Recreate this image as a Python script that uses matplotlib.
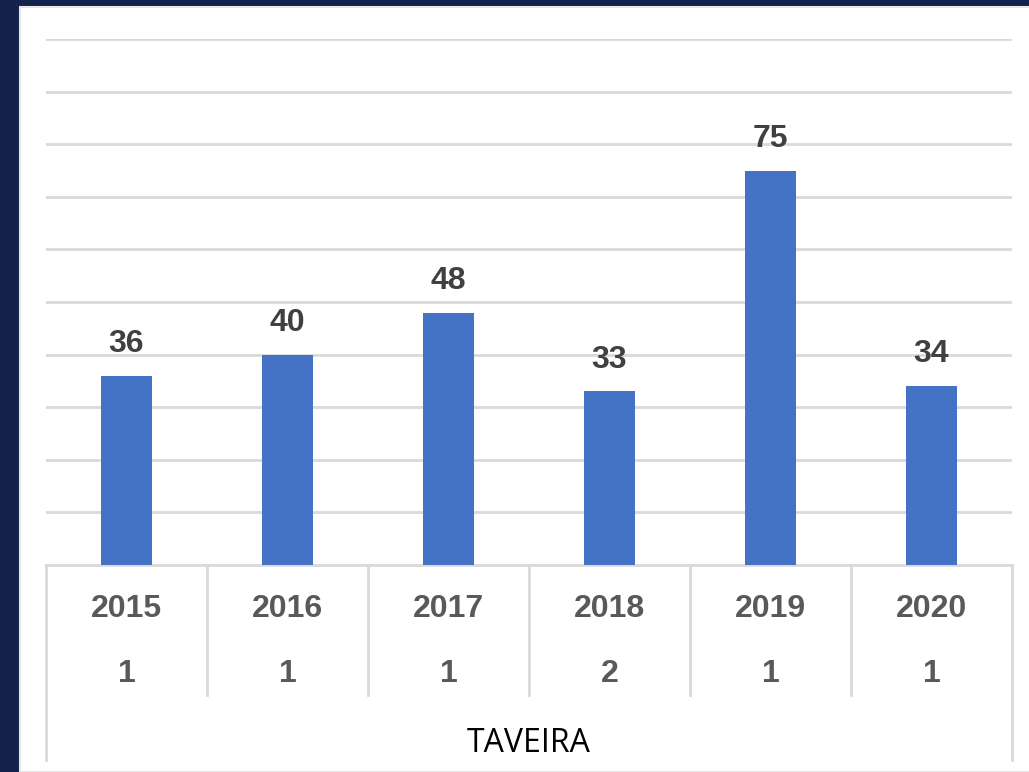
import numpy as np
import matplotlib
matplotlib.use("Agg")
import matplotlib.pyplot as plt
from matplotlib.lines import Line2D
from matplotlib.patches import Rectangle

# Data
years = ['2015', '2016', '2017', '2018', '2019', '2020']
counts = ['1', '1', '1', '2', '1', '1']
values = [36, 40, 48, 33, 75, 34]
group_label = 'TAVEIRA'

NAVY = '#12224a'
BLUE = '#4472c4'
GRID = '#d9d9d9'

narrow = ['Liberation Sans Narrow', 'Liberation Sans', 'DejaVu Sans']

W, H = 1029, 772
fig = plt.figure(figsize=(W / 100, H / 100), dpi=100)
fig.patch.set_facecolor(NAVY)

# white panel
fig.patches.append(Rectangle((20 / W, 0), 1, 1 - 7 / H, transform=fig.transFigure,
                             facecolor='white', edgecolor='#e6e6e6', lw=1.5, zorder=-5))

x0, x1 = 46, 1012
yb, yt = 565, 39
ax = fig.add_axes([x0 / W, 1 - yb / H, (x1 - x0) / W, (yb - yt) / H])
ax.set_facecolor('none')
ax.set_zorder(2)

x = np.arange(len(years))
ax.bar(x, values, width=0.32, color=BLUE, zorder=3)
ax.set_xlim(-0.5, len(years) - 0.5)
ax.set_ylim(0, 100)
ax.set_yticks(np.arange(10, 101, 10))
ax.yaxis.grid(True, color=GRID, lw=2)
ax.set_axisbelow(True)
ax.tick_params(left=False, labelleft=False, bottom=False, labelbottom=False)
for s in ['top', 'right', 'left']:
    ax.spines[s].set_visible(False)
ax.spines['bottom'].set_color(GRID)
ax.spines['bottom'].set_linewidth(2)

# data labels
for xi, v in zip(x, values):
    ax.annotate(str(v), (xi, v), xytext=(0, 12), textcoords='offset points',
                ha='center', va='bottom', fontsize=23, fontweight='bold',
                color='#404040', family=narrow)

# multi-level category axis
def fy(py):
    return 1 - py / H

def fx(px):
    return px / W

cw = (x1 - x0) / len(years)
for k in range(1, len(years)):
    xx = x0 + cw * k
    fig.add_artist(Line2D([fx(xx), fx(xx)], [fy(565), fy(695)], color=GRID, lw=2))
for xx in (x0, x1):
    fig.add_artist(Line2D([fx(xx), fx(xx)], [fy(565), fy(760)], color=GRID, lw=2))

for i, (yr, c) in enumerate(zip(years, counts)):
    cx = x0 + cw * (i + 0.5)
    fig.text(fx(cx), fy(609), yr, ha='center', va='center', fontsize=23,
             fontweight='bold', color='#595959', family=narrow)
    fig.text(fx(cx), fy(674), c, ha='center', va='center', fontsize=23,
             fontweight='bold', color='#595959', family=narrow)

fig.text(fx((x0 + x1) / 2), fy(744), group_label, ha='center', va='center',
         fontsize=23, color='black', family=['Open Sans', 'DejaVu Sans'])

fig.savefig('out.png', dpi=100, facecolor=fig.get_facecolor())
